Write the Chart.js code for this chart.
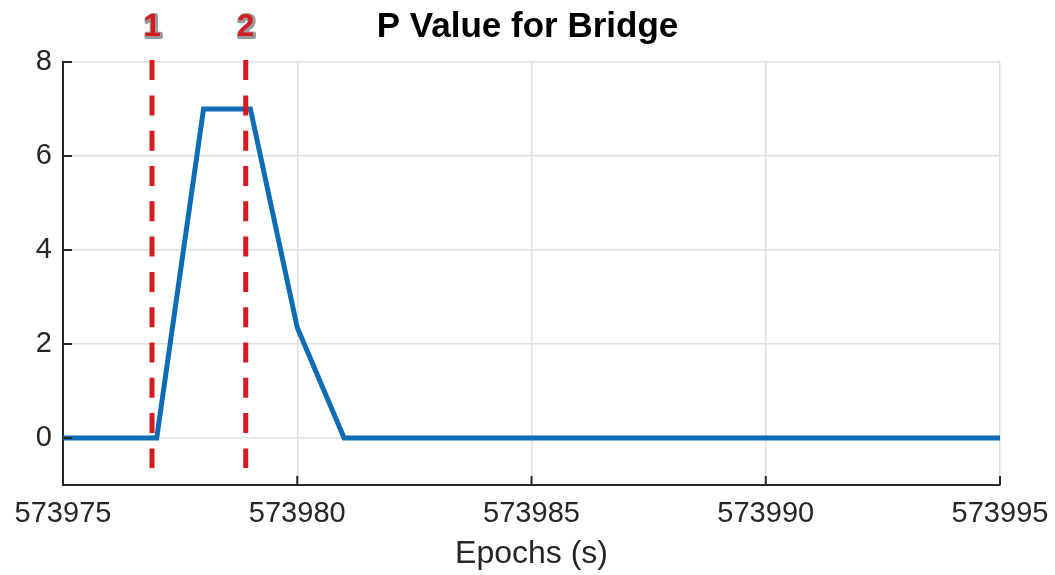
<!DOCTYPE html>
<html>
<head>
<meta charset="utf-8">
<script src="https://cdn.jsdelivr.net/npm/chart.js@4/dist/chart.umd.min.js"></script>
<style>
  html, body { margin: 0; padding: 0; background: #fff; }
  #wrap { width: 1055px; height: 575px; }
</style>
</head>
<body>
<div id="wrap"><canvas id="chart"></canvas></div>
<script>
// P value por época, com as duas marcas verticais (1 e 2) em vermelho tracejado.
var epochs = [573975, 573976, 573977, 573978, 573979, 573980, 573981, 573982,
  573983, 573984, 573985, 573986, 573987, 573988, 573989, 573990, 573991,
  573992, 573993, 573994, 573995];
var pValue = [0, 0, 0, 7, 7, 2.35, 0, 0, 0, 0, 0, 0, 0, 0, 0, 0, 0, 0, 0, 0, 0];

var markerEpochs = [573976.9, 573978.9];
var markerLabels = ["1", "2"];
var markerSpan = [8.04, -0.64]; // de cima para baixo (o tracejado começa no topo)

var xTicks = [573975, 573980, 573985, 573990, 573995];
var yTicks = [0, 2, 4, 6, 8];

var BLUE = "#0f6db5";
var RED = "#d71920";
var GRID = "#dedede";
var AXIS = "#262626";
var FONT = "'Liberation Sans', Arial, sans-serif";

var datasets = [{
  label: "P",
  data: epochs.map(function (x, i) { return { x: x, y: pValue[i] }; }),
  borderColor: BLUE,
  borderWidth: 5,
  pointRadius: 0,
  tension: 0,
  order: 2
}];
markerEpochs.forEach(function (x) {
  datasets.push({
    label: "marker",
    data: [{ x: x, y: markerSpan[0] }, { x: x, y: markerSpan[1] }],
    borderColor: RED,
    borderWidth: 5,
    borderDash: [20, 15.3],
    borderCapStyle: "butt",
    pointRadius: 0,
    clip: false,
    order: 1
  });
});

// rótulos "1" e "2" acima das marcas + ticks internos dos eixos
var extras = {
  id: "extras",
  afterDraw: function (chart) {
    var ctx = chart.ctx;
    var xs = chart.scales.x, ys = chart.scales.y;
    var area = chart.chartArea;
    ctx.save();
    ctx.strokeStyle = AXIS;
    ctx.lineWidth = 2;
    xTicks.forEach(function (v) {
      var px = xs.getPixelForValue(v);
      ctx.beginPath();
      ctx.moveTo(px, area.bottom);
      ctx.lineTo(px, area.bottom - 9);
      ctx.stroke();
    });
    yTicks.forEach(function (v) {
      var py = ys.getPixelForValue(v);
      ctx.beginPath();
      ctx.moveTo(area.left, py);
      ctx.lineTo(area.left + 9, py);
      ctx.stroke();
    });
    ctx.font = "bold 31px " + FONT;
    ctx.textAlign = "center";
    ctx.textBaseline = "middle";
    ctx.lineJoin = "round";
    markerEpochs.forEach(function (x, i) {
      var px = xs.getPixelForValue(x);
      ctx.strokeStyle = "#9a9a9a";
      ctx.lineWidth = 4;
      ctx.strokeText(markerLabels[i], px + 1, 28);
      ctx.fillStyle = RED;
      ctx.fillText(markerLabels[i], px, 27);
    });
    ctx.restore();
  }
};

new Chart(document.getElementById("chart"), {
  type: "line",
  data: { datasets: datasets },
  plugins: [extras],
  options: {
    responsive: true,
    maintainAspectRatio: false,
    animation: false,
    layout: { padding: 0 },
    scales: {
      x: {
        type: "linear",
        min: 573975,
        max: 573995,
        afterBuildTicks: function (s) {
          s.ticks = xTicks.map(function (v) { return { value: v }; });
        },
        afterFit: function (s) {
          s.height = 90;
          s.paddingLeft = 0;
          s.paddingRight = 55;
        },
        grid: { color: GRID, lineWidth: 1.5, drawTicks: false },
        border: { color: AXIS, width: 2 },
        ticks: {
          padding: 12,
          color: AXIS,
          font: { family: FONT, size: 29 },
          maxRotation: 0,
          callback: function (v) { return String(v); }
        },
        title: {
          display: true,
          text: "Epochs (s)",
          color: AXIS,
          font: { family: FONT, size: 32 },
          padding: { top: 0, bottom: 2 }
        }
      },
      y: {
        min: -1,
        max: 8,
        afterBuildTicks: function (s) {
          s.ticks = yTicks.map(function (v) { return { value: v }; });
        },
        afterFit: function (s) { s.width = 63; },
        grid: { color: GRID, lineWidth: 1.5, drawTicks: false },
        border: { color: AXIS, width: 2 },
        ticks: {
          padding: 11,
          color: AXIS,
          font: { family: FONT, size: 29 }
        }
      }
    },
    plugins: {
      legend: { display: false },
      tooltip: { enabled: false },
      title: {
        display: true,
        text: "P Value for Bridge",
        color: "#000",
        font: { family: FONT, size: 35, weight: "bold", lineHeight: 1.2 },
        padding: { top: 6, bottom: 14 }
      }
    }
  }
});
</script>
</body>
</html>
